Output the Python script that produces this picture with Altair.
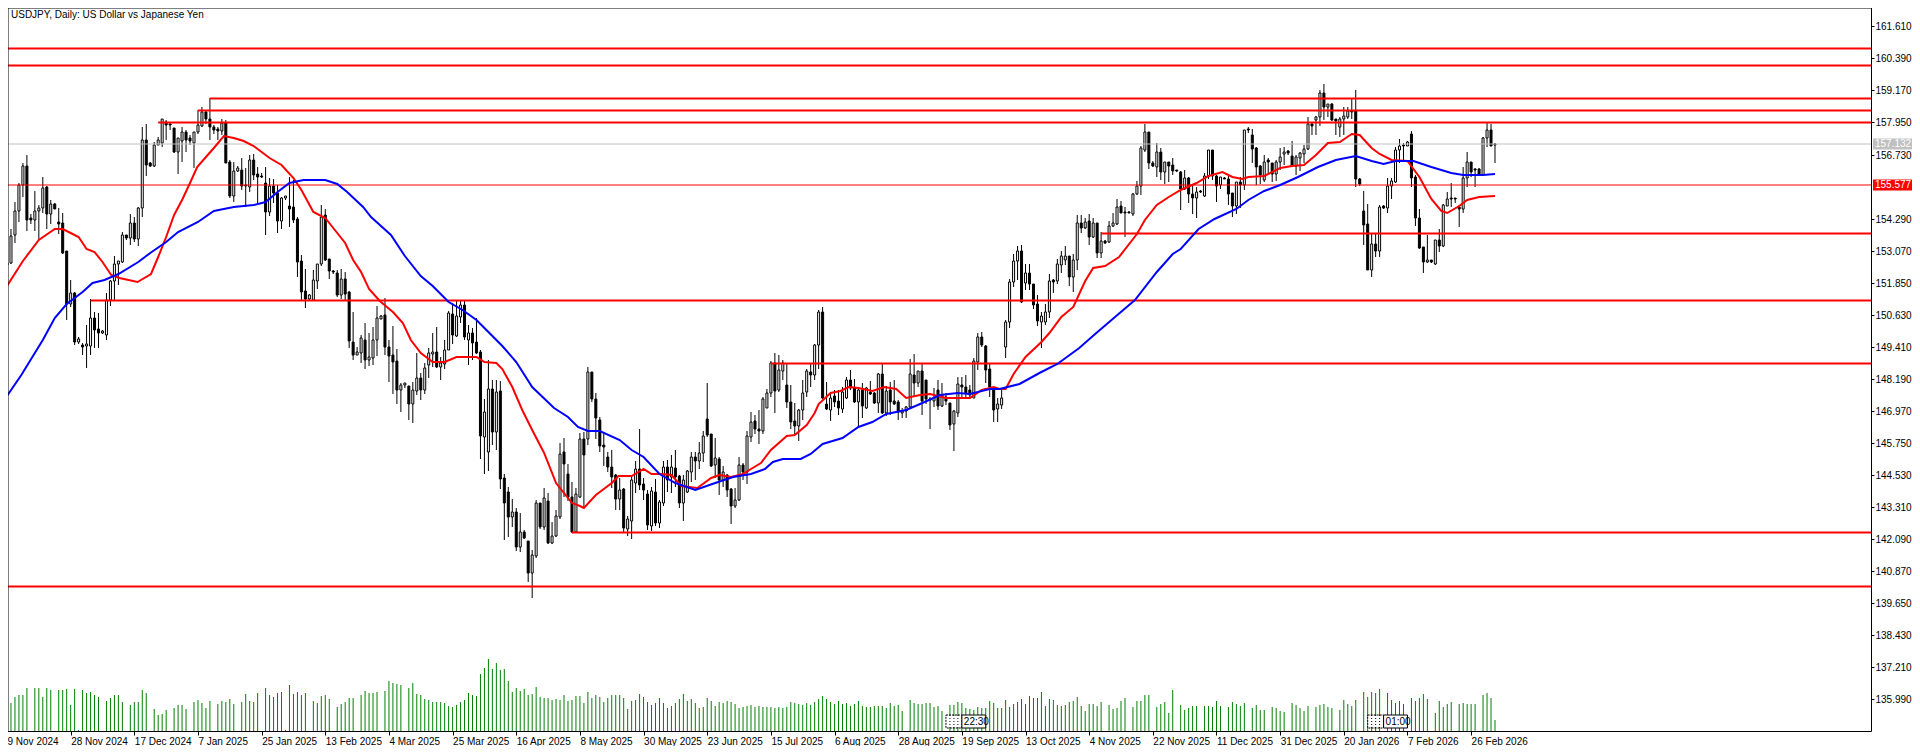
import json

import altair as alt
import pandas as pd

WIDTH = 1869
HEIGHT = 729
FONT = "Liberation Sans"

symbol_title = "USDJPY, Daily:  US Dollar vs Japanese Yen"

price_ticks = [161.61, 160.39, 159.17, 157.95, 156.73, 154.29, 153.07, 151.85, 150.63, 149.41, 148.19,
               146.97, 145.75, 144.53, 143.31, 142.09, 140.87, 139.65, 138.43, 137.21, 135.99]
date_labels = ["9 Nov 2024", "28 Nov 2024", "17 Dec 2024", "7 Jan 2025", "25 Jan 2025", "13 Feb 2025",
               "4 Mar 2025", "25 Mar 2025", "16 Apr 2025", "8 May 2025", "30 May 2025", "23 Jun 2025",
               "15 Jul 2025", "6 Aug 2025", "28 Aug 2025", "19 Sep 2025", "13 Oct 2025", "4 Nov 2025",
               "22 Nov 2025", "11 Dec 2025", "31 Dec 2025", "20 Jan 2026", "7 Feb 2026", "26 Feb 2026"]
date_bars = [16 * i for i in range(len(date_labels))]

highs = [
    152.71, 153.91, 154.93, 155.63, 156.41, 156.73, 154.46, 155.34, 154.79, 155.86,
    155.53, 154.99, 154.87, 154.71, 154.49, 153.05, 151.95, 151.50, 149.78, 149.55,
    150.24, 151.23, 150.73, 150.69, 150.05, 151.45, 151.95, 152.87, 152.66, 153.79,
    153.67, 154.46, 154.36, 154.74, 157.78, 157.91, 156.45, 157.21, 157.38, 158.10,
    158.04, 157.98, 157.73, 157.34, 157.78, 157.66, 157.47, 157.59, 158.42, 158.52,
    158.42, 158.88, 157.85, 157.78, 158.10, 158.04, 156.54, 156.45, 156.29, 156.58,
    156.20, 156.71, 156.75, 156.26, 156.01, 156.24, 155.82, 155.78, 155.57, 155.12,
    155.17, 155.88, 155.76, 154.36, 152.90, 152.39, 151.44, 152.33, 152.58, 154.80,
    154.64, 152.74, 152.33, 152.33, 152.39, 152.27, 151.52, 150.74, 149.41, 149.86,
    150.30, 149.92, 150.17, 150.97, 150.62, 151.27, 149.67, 150.20, 149.31, 148.02,
    148.04, 147.91, 148.08, 149.18, 148.40, 148.78, 149.35, 149.92, 150.17, 149.03,
    149.67, 150.78, 151.09, 151.19, 151.16, 151.16, 150.24, 150.11, 150.49, 149.28,
    147.42, 148.90, 148.14, 148.14, 148.10, 144.59, 144.06, 143.62, 143.26, 143.07,
    142.44, 142.02, 141.68, 143.58, 143.48, 144.02, 143.83, 142.75, 143.20, 145.74,
    145.93, 144.97, 144.28, 144.02, 146.14, 146.18, 148.63, 148.46, 147.66, 146.75,
    146.18, 145.42, 145.48, 144.59, 144.40, 144.02, 142.98, 144.53, 145.08, 146.27,
    144.40, 143.96, 144.09, 144.37, 143.58, 145.08, 145.10, 145.29, 145.48, 144.53,
    144.53, 144.72, 145.42, 145.42, 145.80, 146.22, 148.02, 146.09, 145.93, 145.23,
    144.87, 144.59, 144.02, 144.02, 145.23, 145.00, 146.22, 146.94, 146.81, 147.00,
    147.51, 147.79, 148.87, 149.18, 149.10, 148.91, 148.78, 147.95, 147.26, 147.03,
    148.14, 148.55, 148.78, 149.51, 150.83, 150.91, 148.08, 147.66, 147.76, 147.76,
    147.87, 148.27, 148.52, 148.17, 147.83, 148.04, 147.89, 148.11, 147.70, 148.42,
    148.78, 147.92, 148.08, 148.14, 147.38, 147.10, 147.15, 148.93, 149.12, 148.50,
    148.78, 148.14, 147.51, 147.83, 148.14, 148.02, 147.64, 147.28, 147.00, 148.27,
    148.27, 148.33, 147.95, 148.97, 149.95, 149.98, 149.48, 148.80, 147.89, 147.48,
    147.76, 150.45, 152.01, 152.96, 153.24, 153.28, 152.58, 152.58, 151.82, 151.38,
    150.74, 151.06, 152.18, 152.01, 152.77, 153.04, 153.24, 152.86, 152.96, 154.42,
    154.42, 154.30, 154.46, 154.33, 154.13, 153.79, 153.47, 154.19, 154.49, 155.02,
    154.97, 154.74, 154.57, 155.25, 155.73, 157.05, 157.89, 157.57, 156.49, 157.15,
    156.96, 156.45, 156.45, 156.58, 156.16, 156.11, 156.16, 155.88, 155.56, 155.48,
    155.37, 156.01, 156.92, 156.92, 155.95, 155.88, 155.86, 155.91, 155.25, 155.69,
    155.88, 157.68, 157.78, 157.72, 157.02, 156.32, 156.70, 156.58, 156.41, 156.51,
    156.96, 157.02, 156.92, 157.25, 156.70, 156.83, 157.11, 158.16, 157.97, 158.21,
    159.20, 159.43, 158.67, 158.70, 158.10, 158.14, 158.54, 158.52, 158.86, 159.20,
    155.84, 155.33, 154.86, 153.75, 153.72, 154.80, 154.81, 155.82, 155.82, 157.02,
    157.33, 157.15, 157.25, 157.63, 155.94, 154.67, 153.21, 153.66, 152.73, 153.49,
    153.91, 154.84, 155.31, 155.63, 155.07, 154.80, 156.26, 156.81, 156.46, 156.20,
    156.20, 157.38, 157.94, 157.91, 157.15,
]
lows = [
    152.33, 152.58, 153.37, 154.17, 155.12, 153.83, 154.10, 153.83, 153.47, 154.49,
    153.88, 154.10, 154.64, 153.72, 152.96, 150.45, 150.93, 149.48, 149.51, 149.09,
    148.60, 149.09, 149.36, 149.36, 149.90, 149.67, 150.96, 151.19, 151.76, 152.62,
    153.47, 153.28, 153.41, 153.25, 154.36, 155.93, 156.26, 156.26, 157.09, 157.02,
    157.30, 157.66, 156.79, 155.98, 156.43, 156.81, 157.09, 156.20, 157.53, 157.78,
    157.91, 157.28, 157.53, 157.28, 157.47, 156.39, 155.06, 154.93, 156.08, 155.37,
    154.74, 155.31, 155.76, 154.87, 155.82, 153.66, 154.39, 154.87, 153.75, 153.90,
    155.00, 153.98, 154.13, 152.08, 151.21, 150.90, 151.21, 151.19, 151.61, 152.48,
    152.69, 151.99, 152.20, 151.31, 151.25, 151.19, 149.35, 148.90, 149.09, 148.78,
    148.55, 148.68, 148.71, 149.06, 150.46, 149.09, 148.08, 147.63, 147.25, 146.94,
    147.83, 146.62, 146.52, 147.57, 147.38, 147.63, 148.21, 148.65, 148.62, 148.14,
    148.55, 149.28, 149.51, 149.79, 150.30, 149.67, 148.71, 148.90, 149.13, 145.14,
    144.56, 144.68, 145.67, 145.48, 143.99, 142.06, 142.18, 142.56, 141.64, 141.61,
    142.08, 140.47, 139.87, 141.36, 142.47, 142.44, 141.90, 141.90, 142.18, 142.86,
    143.71, 143.55, 142.34, 142.34, 143.64, 143.26, 145.67, 147.32, 145.91, 145.42,
    144.87, 144.66, 144.02, 143.22, 143.20, 142.37, 142.22, 142.09, 143.83, 143.96,
    143.58, 142.44, 142.41, 142.59, 142.50, 143.35, 143.90, 143.83, 144.09, 143.26,
    142.79, 143.86, 144.28, 144.34, 144.75, 145.04, 145.99, 144.85, 144.40, 143.76,
    144.09, 143.71, 142.67, 143.29, 143.54, 144.34, 144.18, 145.80, 146.11, 145.71,
    146.11, 147.07, 147.51, 146.90, 147.70, 148.14, 147.07, 146.30, 146.11, 145.84,
    146.62, 147.51, 147.87, 148.14, 148.55, 147.42, 147.00, 146.60, 147.13, 146.81,
    146.88, 147.43, 147.76, 147.26, 146.34, 146.72, 147.03, 147.59, 147.23, 146.88,
    146.85, 146.77, 146.81, 147.19, 146.62, 146.72, 146.72, 147.05, 147.51, 147.89,
    146.81, 147.23, 146.28, 147.13, 147.00, 147.13, 147.19, 146.24, 145.45, 146.75,
    147.51, 147.45, 147.45, 147.45, 148.53, 149.41, 148.02, 147.51, 146.56, 146.56,
    147.05, 148.99, 150.13, 151.70, 151.95, 151.09, 151.57, 151.57, 150.84, 150.20,
    149.35, 150.23, 150.49, 151.47, 151.80, 152.23, 152.52, 151.72, 151.50, 152.33,
    153.75, 153.88, 153.28, 153.57, 152.81, 152.81, 153.34, 153.37, 153.98, 154.04,
    154.49, 153.60, 154.49, 154.40, 155.18, 155.18, 156.83, 156.17, 156.26, 155.88,
    155.75, 155.60, 155.69, 155.95, 156.06, 154.61, 155.37, 154.89, 154.46, 154.33,
    155.27, 155.10, 155.78, 155.75, 154.92, 155.40, 155.78, 154.80, 154.36, 154.46,
    154.68, 155.37, 157.55, 156.39, 155.56, 155.60, 155.69, 156.01, 155.69, 155.73,
    156.13, 156.32, 156.72, 156.24, 155.94, 156.11, 156.41, 156.92, 157.47, 157.47,
    157.81, 158.06, 158.14, 158.01, 157.47, 157.40, 157.47, 158.10, 158.10, 155.50,
    155.55, 153.28, 152.33, 152.05, 152.83, 152.83, 154.64, 154.51, 155.05, 155.63,
    156.39, 156.49, 157.05, 155.50, 154.01, 153.15, 152.23, 152.61, 152.61, 152.54,
    153.02, 153.21, 154.76, 154.74, 154.89, 153.98, 154.51, 155.50, 155.88, 155.50,
    155.94, 155.94, 157.02, 157.05, 156.41,
]
opens = [
    152.61, 152.61, 153.65, 154.57, 155.56, 156.29, 154.30, 154.23, 154.57, 154.68,
    155.49, 154.46, 154.84, 154.16, 154.12, 153.05, 151.06, 151.45, 149.59, 149.48,
    149.44, 149.44, 150.50, 150.09, 149.93, 149.85, 151.19, 151.91, 152.58, 152.65,
    153.65, 153.56, 154.14, 153.50, 154.68, 157.30, 156.39, 156.30, 157.11, 157.18,
    157.96, 157.89, 157.73, 156.81, 157.25, 157.59, 157.34, 157.15, 157.59, 157.82,
    158.34, 158.10, 157.78, 157.70, 157.63, 157.94, 156.43, 155.15, 156.11, 156.16,
    155.53, 155.50, 156.54, 155.97, 155.93, 155.63, 154.55, 155.53, 155.25, 154.21,
    155.06, 154.77, 154.73, 154.26, 152.67, 151.52, 151.25, 151.19, 151.92, 152.55,
    154.41, 152.74, 152.31, 152.24, 151.38, 152.01, 151.49, 149.61, 149.09, 149.18,
    149.69, 148.90, 148.98, 149.69, 150.48, 150.64, 149.41, 149.09, 148.87, 147.76,
    147.94, 147.91, 147.23, 147.74, 148.21, 147.76, 148.71, 149.13, 149.23, 148.65,
    148.74, 149.28, 150.65, 149.84, 150.53, 151.02, 149.69, 149.92, 149.59, 149.22,
    145.97, 145.40, 147.80, 146.16, 147.72, 144.40, 143.87, 142.94, 143.11, 141.78,
    142.35, 142.02, 140.79, 141.45, 143.45, 142.56, 143.53, 141.95, 142.21, 142.94,
    145.39, 144.59, 143.71, 142.37, 143.71, 145.89, 145.89, 148.44, 147.41, 146.62,
    145.66, 145.22, 144.84, 144.53, 143.63, 144.00, 142.46, 142.79, 144.24, 144.78,
    144.19, 143.81, 142.61, 143.88, 142.71, 143.48, 144.84, 144.47, 144.80, 144.49,
    143.45, 143.90, 144.66, 145.22, 145.08, 145.36, 146.65, 146.09, 144.90, 145.14,
    144.34, 144.53, 144.00, 143.36, 143.58, 144.90, 144.66, 145.99, 146.58, 146.30,
    146.22, 147.10, 147.67, 148.78, 147.76, 148.50, 147.95, 147.31, 146.58, 146.39,
    147.00, 147.70, 148.44, 148.34, 149.48, 150.72, 147.23, 147.00, 147.54, 147.35,
    147.05, 147.48, 148.14, 147.83, 147.32, 147.76, 147.09, 147.69, 147.66, 147.28,
    148.37, 146.88, 147.76, 147.35, 147.33, 146.90, 146.98, 147.13, 148.32, 148.02,
    148.50, 148.14, 147.42, 147.35, 147.76, 147.15, 147.51, 147.26, 146.46, 146.90,
    147.95, 147.87, 147.76, 147.48, 148.84, 149.79, 149.44, 148.56, 147.76, 147.03,
    147.18, 149.41, 150.34, 151.86, 152.67, 153.05, 151.85, 152.24, 151.80, 151.03,
    150.34, 150.34, 150.72, 151.94, 151.92, 152.54, 152.71, 152.86, 152.07, 152.70,
    154.11, 153.93, 154.19, 153.60, 154.12, 152.99, 153.45, 153.41, 154.02, 154.08,
    154.77, 154.55, 154.55, 154.46, 155.21, 155.53, 156.92, 157.57, 156.40, 156.26,
    156.82, 156.07, 156.45, 156.33, 156.14, 156.05, 155.41, 155.82, 155.22, 155.08,
    155.34, 155.15, 155.91, 156.90, 155.92, 155.56, 155.84, 155.78, 155.25, 154.77,
    155.67, 155.56, 157.72, 157.47, 156.96, 156.29, 155.75, 156.51, 156.39, 155.98,
    156.44, 156.74, 156.87, 156.69, 156.29, 156.58, 156.76, 156.93, 157.90, 158.04,
    158.16, 159.09, 158.54, 158.65, 158.08, 157.78, 158.10, 158.16, 158.40, 158.38,
    155.79, 154.59, 154.08, 152.35, 153.34, 153.06, 154.76, 154.71, 155.55, 155.69,
    156.92, 157.09, 157.06, 157.53, 155.88, 154.33, 153.21, 152.63, 152.73, 152.58,
    153.49, 153.25, 154.76, 155.07, 155.07, 154.74, 154.66, 155.82, 156.44, 156.18,
    156.17, 155.94, 157.34, 157.66, 157.10,
]
closes = [
    152.51, 153.62, 154.57, 155.56, 156.29, 154.23, 154.24, 154.57, 154.68, 155.44,
    154.46, 154.84, 154.66, 154.10, 153.00, 151.03, 151.45, 149.59, 149.70, 149.40,
    149.51, 150.50, 150.05, 149.93, 150.01, 151.21, 151.91, 152.58, 152.66, 153.66,
    153.56, 154.14, 153.50, 154.68, 157.30, 156.34, 156.31, 157.11, 157.30, 158.08,
    157.86, 157.84, 156.81, 157.34, 157.59, 157.28, 157.25, 157.59, 157.85, 158.33,
    158.10, 157.78, 157.66, 157.63, 157.94, 156.41, 155.15, 156.11, 156.20, 155.55,
    155.56, 156.54, 155.95, 155.88, 155.88, 154.55, 155.53, 155.27, 154.21, 155.06,
    155.17, 154.67, 154.23, 152.65, 151.51, 151.25, 151.40, 151.95, 152.55, 154.34,
    152.71, 152.31, 152.25, 151.38, 152.01, 151.44, 149.64, 149.09, 149.22, 149.73,
    148.90, 149.01, 149.69, 150.49, 150.60, 149.41, 149.06, 148.84, 147.76, 147.94,
    148.02, 147.23, 147.76, 148.24, 147.76, 148.62, 149.18, 149.23, 148.65, 148.78,
    149.28, 150.69, 149.87, 150.58, 151.02, 149.79, 149.92, 149.56, 149.16, 146.01,
    146.93, 147.80, 146.16, 147.69, 144.37, 143.45, 142.94, 143.11, 141.80, 142.35,
    142.12, 140.79, 141.48, 143.45, 142.56, 143.64, 141.95, 142.23, 142.98, 145.32,
    144.94, 143.71, 142.37, 143.81, 145.89, 145.29, 148.44, 147.41, 146.69, 145.63,
    145.61, 144.85, 144.47, 143.63, 143.98, 142.50, 142.86, 144.34, 144.78, 144.15,
    143.98, 142.63, 143.92, 142.69, 143.49, 144.84, 144.34, 144.84, 144.45, 143.45,
    144.34, 144.68, 145.20, 145.08, 145.36, 146.03, 146.05, 144.87, 145.18, 144.34,
    144.63, 143.96, 143.36, 143.57, 144.90, 144.66, 146.00, 146.56, 146.27, 146.22,
    147.42, 147.67, 148.80, 147.74, 148.53, 148.78, 147.32, 146.56, 146.39, 147.00,
    147.64, 148.49, 148.34, 149.48, 150.72, 147.45, 147.05, 147.48, 147.32, 147.07,
    147.69, 148.14, 147.83, 147.32, 147.76, 147.15, 147.83, 147.61, 147.28, 148.37,
    146.88, 147.74, 147.32, 147.24, 146.93, 146.96, 147.13, 148.37, 148.02, 148.50,
    147.36, 147.41, 147.38, 147.45, 147.15, 147.57, 147.36, 146.43, 146.98, 147.99,
    147.89, 147.64, 147.57, 148.89, 149.79, 149.48, 148.53, 147.89, 147.00, 147.23,
    147.48, 150.34, 151.86, 152.67, 153.04, 151.12, 152.24, 151.82, 151.02, 150.40,
    150.59, 150.72, 151.90, 151.88, 152.56, 152.86, 152.86, 152.07, 152.70, 154.11,
    153.95, 154.18, 153.60, 154.12, 152.99, 153.42, 153.37, 154.02, 154.11, 154.75,
    154.51, 154.50, 154.50, 155.21, 155.53, 156.97, 157.57, 156.39, 156.30, 156.82,
    156.07, 156.43, 156.30, 156.10, 156.09, 155.41, 155.82, 155.21, 155.08, 155.29,
    155.29, 155.91, 156.90, 155.92, 155.55, 155.86, 155.79, 155.22, 154.77, 155.67,
    155.56, 157.68, 157.66, 156.93, 156.26, 155.94, 156.46, 156.45, 155.98, 156.44,
    156.62, 156.84, 156.79, 156.29, 156.62, 156.77, 156.93, 157.88, 157.83, 158.16,
    159.09, 158.54, 158.65, 158.04, 158.01, 158.10, 158.19, 158.38, 158.35, 155.78,
    155.60, 154.04, 152.35, 153.34, 153.06, 154.75, 154.69, 155.55, 155.71, 156.91,
    157.05, 157.05, 157.20, 155.84, 154.33, 153.18, 152.63, 152.73, 152.63, 153.49,
    153.25, 154.80, 155.05, 155.04, 155.04, 154.66, 155.85, 156.43, 156.07, 156.13,
    155.94, 157.34, 157.66, 157.06, 157.13,
]
volumes = [
    0, 28, 34, 36, 36, 43, 0, 43, 43, 34, 43, 41, 0, 41, 41, 42, 26, 42, 1, 41,
    38, 39, 36, 34, 0, 30, 33, 36, 36, 29, 0, 26, 29, 29, 41, 38, 0, 22, 16, 17,
    21, 0, 23, 26, 26, 22, 0, 29, 31, 28, 23, 30, 0, 27, 30, 29, 32, 27, 0, 29,
    37, 30, 29, 38, 0, 43, 36, 34, 38, 39, 1, 46, 37, 39, 36, 38, 0, 30, 28, 35,
    36, 32, 0, 24, 27, 29, 33, 33, 0, 36, 40, 38, 38, 39, 0, 40, 50, 48, 47, 46,
    0, 43, 48, 37, 36, 32, 31, 29, 29, 29, 28, 25, 24, 26, 29, 31, 38, 36, 35, 57,
    63, 72, 62, 68, 61, 62, 50, 39, 43, 40, 42, 36, 37, 44, 34, 33, 33, 31, 32, 31,
    36, 30, 31, 35, 35, 28, 39, 33, 36, 34, 29, 33, 36, 36, 36, 33, 22, 30, 31, 37,
    34, 29, 26, 28, 33, 28, 23, 25, 28, 32, 37, 30, 32, 28, 23, 24, 33, 30, 25, 29,
    28, 30, 29, 27, 23, 24, 25, 26, 24, 25, 24, 24, 24, 23, 24, 23, 24, 29, 28, 27,
    26, 28, 26, 29, 32, 35, 32, 29, 27, 30, 27, 28, 25, 27, 30, 25, 24, 24, 25, 25,
    25, 23, 28, 25, 26, 20, 0, 31, 28, 27, 27, 28, 28, 24, 25, 20, 0, 26, 26, 29,
    28, 23, 22, 21, 24, 23, 23, 30, 28, 23, 23, 31, 24, 27, 29, 32, 27, 35, 33, 33,
    39, 25, 32, 31, 26, 25, 26, 29, 30, 34, 25, 20, 27, 27, 25, 29, 0, 26, 22, 23,
    30, 33, 0, 24, 30, 30, 36, 36, 0, 24, 27, 29, 18, 41, 0, 26, 21, 23, 25, 25,
    0, 25, 25, 24, 30, 25, 0, 24, 29, 27, 25, 28, 0, 23, 26, 21, 21, 0, 24, 23,
    20, 19, 0, 28, 26, 23, 20, 25, 0, 24, 26, 27, 24, 23, 0, 21, 31, 27, 25, 31,
    0, 39, 34, 39, 38, 42, 0, 38, 31, 28, 30, 27, 0, 33, 30, 33, 37, 32, 0, 18,
    30, 24, 27, 29, 0, 27, 28, 27, 27, 27, 0, 36, 38, 33, 11,
]

red_bars = [0, 4, 8, 12, 14, 16, 18, 20, 22, 24, 26.2, 28.25, 32.8, 36.2, 38, 40, 42, 44, 46, 47.8, 50, 52, 54.5, 57,
            59.5, 62, 66, 69, 72, 74, 77, 80, 82, 85, 87, 89, 91, 93.7, 97, 99.5, 101.5, 104, 107, 110, 113, 118,
            120, 123, 124.5, 127, 129.5, 132, 135, 138, 142, 144, 145, 148, 152, 153.7, 157, 160, 162, 164.5, 167,
            169.5, 173.5, 177, 179, 182, 185, 187, 189.5, 192, 196, 198, 201, 203, 204, 207, 209.5, 211.5, 214,
            217.5, 220.5, 223.5, 226, 229.5, 232, 236, 242, 245, 248, 249.5, 251, 253, 256, 260, 262, 265, 268,
            271, 273, 276, 279.5, 284, 286, 289, 292, 295, 299, 302, 305.5, 308, 310.5, 312, 316, 320, 323, 326,
            329, 332, 335, 338, 340, 343, 345, 348, 352, 355, 358, 360.5, 362, 365, 367, 370, 374]
red_ma = [151.73, 152.68, 153.47, 153.89, 153.91, 153.76, 153.60, 153.15, 153.03, 152.65, 152.14, 152.04, 151.87,
          152.20, 152.84, 153.60, 154.42, 154.99, 155.63, 156.26, 156.64, 156.96, 157.43, 157.37, 157.25, 157.06,
          156.58, 156.35, 155.85, 155.38, 154.55, 154.30, 153.92, 153.35, 152.71, 152.27, 151.63, 151.16, 150.74,
          150.30, 149.67, 149.18, 148.84, 148.84, 149.03, 149.03, 148.84, 148.78, 148.55, 147.89, 147.00, 146.24,
          145.36, 144.21, 143.45, 143.36, 143.26, 143.77, 144.21, 144.51, 144.51, 144.77, 144.59, 144.59, 144.53,
          144.11, 144.05, 144.40, 144.53, 144.47, 144.56, 144.78, 145.00, 145.48, 146.03, 146.05, 146.43, 146.88,
          147.22, 147.66, 147.74, 147.89, 147.83, 147.74, 147.87, 147.79, 147.45, 147.57, 147.61, 147.48, 147.47,
          147.76, 147.89, 147.80, 147.82, 148.39, 149.03, 149.60, 149.92, 150.55, 150.93, 151.92, 152.42, 152.49,
          152.84, 153.72, 154.23, 154.80, 155.10, 155.37, 155.65, 155.91, 156.07, 155.88, 155.79, 155.88, 155.92,
          156.20, 156.29, 156.35, 156.70, 157.15, 157.21, 157.53, 157.47, 156.96, 156.74, 156.54, 156.48, 155.88,
          155.05, 154.57, 154.52, 154.76, 154.99, 155.12, 155.16]
blue_bars = [0, 3.6, 9, 12, 15, 19, 21.5, 24.5, 28, 33, 36, 40, 43, 48, 52, 57, 62, 65, 68, 71, 74.5, 80, 83, 85.5,
             89.5, 91.5, 96.5, 100, 104, 107, 111, 114.5, 118, 121, 124.5, 128, 132, 137.5, 141, 143.5, 146, 149,
             154, 157, 160, 164, 168, 173, 178, 182.5, 187, 190.5, 192.5, 195, 199.5, 202, 205, 210, 214, 217.5,
             221, 226, 229.5, 234.5, 239, 242, 247, 249.5, 254.5, 259.5, 264, 269.5, 273.5, 278.5, 283.5, 289,
             293, 295, 299.5, 303.5, 309, 312, 316, 320, 324.5, 329.5, 334, 339, 343, 346, 349, 353.5, 358, 363,
             366, 371, 374]
blue_ma = [147.53, 148.33, 149.69, 150.49, 151.06, 151.50, 151.85, 151.95, 152.18, 152.65, 152.99, 153.41, 153.79,
           154.17, 154.57, 154.74, 154.80, 154.93, 155.31, 155.63, 155.76, 155.76, 155.60, 155.31, 154.74, 154.36,
           153.66, 152.86, 152.11, 151.72, 151.13, 150.81, 150.43, 149.98, 149.44, 148.85, 147.89, 147.07, 146.73,
           146.35, 146.22, 146.19, 145.86, 145.48, 145.20, 144.57, 144.21, 143.98, 144.24, 144.44, 144.59, 144.78,
           145.03, 145.14, 145.14, 145.33, 145.70, 145.95, 146.37, 146.56, 146.85, 147.00, 147.23, 147.57, 147.66,
           147.63, 147.79, 147.79, 147.99, 148.42, 148.75, 149.35, 149.89, 150.53, 151.19, 152.27, 152.96, 153.15,
           153.91, 154.26, 154.64, 154.99, 155.35, 155.56, 155.88, 156.24, 156.54, 156.67, 156.48, 156.36, 156.48,
           156.48, 156.24, 156.01, 155.94, 155.94, 155.98]

level_prices = [160.79, 160.14, 158.88, 158.42, 157.97, 153.75, 151.19, 148.79, 142.36, 140.30]
level_starts = [0, 0, 51, 48, 38, 275, 21, 192, 142, 0]

bid_price = 155.577
last_price = 157.132

event_tags = ["22:30", "01:00"]
tag_starts = [240, 346]
tag_ends = [246, 352]
flag_starts = [236, 342]
flag_bars = [237, 238, 239, 343, 344, 345]

bars = pd.DataFrame({
    "bar": range(len(highs)),
    "high": highs,
    "low": lows,
    "open": opens,
    "close": closes,
    "volume": volumes,
})
bars["body_top"] = bars[["open", "close"]].max(axis=1)
bars["body_bottom"] = bars[["open", "close"]].min(axis=1)
bars["side"] = ["up" if c >= o else "down" for o, c in zip(opens, closes)]

x_scale = alt.Scale(domain=[0, WIDTH / 4], nice=False, zero=False)
price_scale = alt.Scale(domain=[134.79, 162.535], nice=False, zero=False, round=True)
volume_scale = alt.Scale(domain=[0, HEIGHT], nice=False, zero=False, round=True)

x_bar = alt.X(
    "bar:Q",
    scale=x_scale,
    axis=alt.Axis(
        values=date_bars,
        labelExpr=json.dumps(date_labels) + "[datum.value / 16]",
        labelAlign="left",
        labelBaseline="top",
        labelOverlap=False,
        labelBound=False,
        labelFlush=False,
        labelFont=FONT,
        labelFontSize=10,
        labelColor="black",
        labelPadding=1,
        tickColor="black",
        tickSize=4,
        grid=False,
        domain=False,
        title=None,
    ),
)
x_plain = alt.X("bar:Q", scale=x_scale, axis=None)

volume = alt.Chart(bars).mark_rule(color="#008000", strokeWidth=1).encode(
    x=x_bar,
    y=alt.Y("volume:Q", scale=volume_scale, axis=None),
    y2=alt.value(HEIGHT),
)

wicks = alt.Chart(bars).mark_rule(color="black", strokeWidth=1).encode(
    x=x_plain,
    y=alt.Y(
        "high:Q",
        scale=price_scale,
        axis=alt.Axis(
            orient="right",
            values=price_ticks,
            format=".3f",
            labelFont=FONT,
            labelFontSize=10,
            labelColor="black",
            labelPadding=1,
            tickColor="black",
            tickSize=3,
            grid=False,
            domain=False,
            title=None,
        ),
    ),
    y2="low:Q",
)

bodies = alt.Chart(bars).mark_bar(
    size=2, stroke="black", strokeWidth=1, orient="vertical"
).encode(
    x=x_plain,
    y=alt.Y("body_top:Q", scale=price_scale, axis=None),
    y2="body_bottom:Q",
    fill=alt.Fill("side:N", scale=alt.Scale(domain=["up", "down"], range=["white", "black"]), legend=None),
)

red_line = alt.Chart(pd.DataFrame({"bar": red_bars, "ma": red_ma})).mark_line(
    color="#ff0000", strokeWidth=2
).encode(x=x_plain, y=alt.Y("ma:Q", scale=price_scale, axis=None))

blue_line = alt.Chart(pd.DataFrame({"bar": blue_bars, "ma": blue_ma})).mark_line(
    color="#0000ff", strokeWidth=2
).encode(x=x_plain, y=alt.Y("ma:Q", scale=price_scale, axis=None))

levels = alt.Chart(pd.DataFrame({"bar": level_starts, "price": level_prices})).mark_rule(
    color="#ff0000", strokeWidth=2, yOffset=0.5
).encode(
    x=x_plain,
    x2=alt.value(WIDTH),
    y=alt.Y("price:Q", scale=price_scale, axis=None),
)

last_line = alt.Chart(pd.DataFrame({"price": [last_price]})).mark_rule(
    color="#c0c0c0", strokeWidth=1
).encode(
    x=alt.value(0), x2=alt.value(WIDTH),
    y=alt.Y("price:Q", scale=price_scale, axis=None),
)
bid_line = alt.Chart(pd.DataFrame({"price": [bid_price]})).mark_rule(
    color="#ff0000", strokeWidth=1
).encode(
    x=alt.value(0), x2=alt.value(WIDTH),
    y=alt.Y("price:Q", scale=price_scale, axis=None),
)

price_boxes = pd.DataFrame({
    "price": [last_price, bid_price],
    "box": ["#c0c0c0", "#ff0000"],
    "label": [f"{last_price:.3f}", f"{bid_price:.3f}"],
})
box_marks = alt.Chart(price_boxes).mark_rule(strokeWidth=11).encode(
    x=alt.value(WIDTH + 2),
    x2=alt.value(WIDTH + 41),
    y=alt.Y("price:Q", scale=price_scale, axis=None),
    color=alt.Color("box:N", scale=None),
)
box_text = alt.Chart(price_boxes).mark_text(
    align="left", baseline="middle", font=FONT, fontSize=10, color="white"
).encode(
    x=alt.value(WIDTH + 4),
    y=alt.Y("price:Q", scale=price_scale, axis=None),
    text="label:N",
)

flag_table = pd.DataFrame({"bar": flag_starts, "end": tag_starts, "top": [16, 16], "bottom": [3, 3]})
flag_boxes = alt.Chart(flag_table).mark_rect(
    fill="white", stroke="black", strokeWidth=1, strokeDash=[2, 1]
).encode(
    x=x_plain,
    x2="end:Q",
    y=alt.Y("top:Q", scale=volume_scale, axis=None),
    y2="bottom:Q",
)
flag_lines = alt.Chart(pd.DataFrame({"bar": flag_bars, "top": [16] * 6, "bottom": [3] * 6})).mark_rule(
    color="black", strokeWidth=1, strokeDash=[1, 2]
).encode(
    x=x_plain,
    y=alt.Y("top:Q", scale=volume_scale, axis=None),
    y2="bottom:Q",
)
tag_table = pd.DataFrame({
    "bar": tag_starts, "end": tag_ends, "tag": event_tags,
    "top": [16, 16], "bottom": [3, 3], "mid": [9.5, 9.5],
})
tag_boxes = alt.Chart(tag_table).mark_rect(fill="white", stroke="black", strokeWidth=1).encode(
    x=x_plain,
    x2="end:Q",
    y=alt.Y("top:Q", scale=volume_scale, axis=None),
    y2="bottom:Q",
)
tag_text = alt.Chart(tag_table).mark_text(
    align="left", baseline="middle", dx=2, font=FONT, fontSize=10, color="black"
).encode(
    x=x_plain,
    y=alt.Y("mid:Q", scale=volume_scale, axis=None),
    text="tag:N",
)

# page margin hides the first 6px, so the frame's left and top edges sit at the page edge
left_edge = alt.Chart(pd.DataFrame({"edge": [0]})).mark_rule(color="black", strokeWidth=1).encode(
    x=alt.value(6), y=alt.value(6), y2=alt.value(HEIGHT)
)
top_edge = alt.Chart(pd.DataFrame({"edge": [0]})).mark_rule(color="black", strokeWidth=1).encode(
    x=alt.value(6), x2=alt.value(WIDTH), y=alt.value(6)
)

title_text = alt.Chart(pd.DataFrame({"label": [symbol_title]})).mark_text(
    align="left", baseline="middle", font=FONT, fontSize=10, color="black"
).encode(
    x=alt.value(9),
    y=alt.value(13),
    text="label:N",
)

chart = alt.layer(
    volume, wicks, bodies, last_line, bid_line, levels, red_line, blue_line,
    flag_boxes, flag_lines, tag_boxes, tag_text, box_marks, box_text, left_edge, top_edge, title_text,
).resolve_scale(
    y="independent", color="independent", fill="independent"
).resolve_axis(
    x="independent"
).properties(
    width=WIDTH,
    height=HEIGHT,
    autosize=alt.AutoSizeParams(type="none"),
    padding={"left": -6, "top": -6, "right": 41, "bottom": 15},
    background="white",
).configure_view(
    stroke="black",
    strokeWidth=1,
)

chart.save("out.html", embed_options={"renderer": "svg", "actions": False})
